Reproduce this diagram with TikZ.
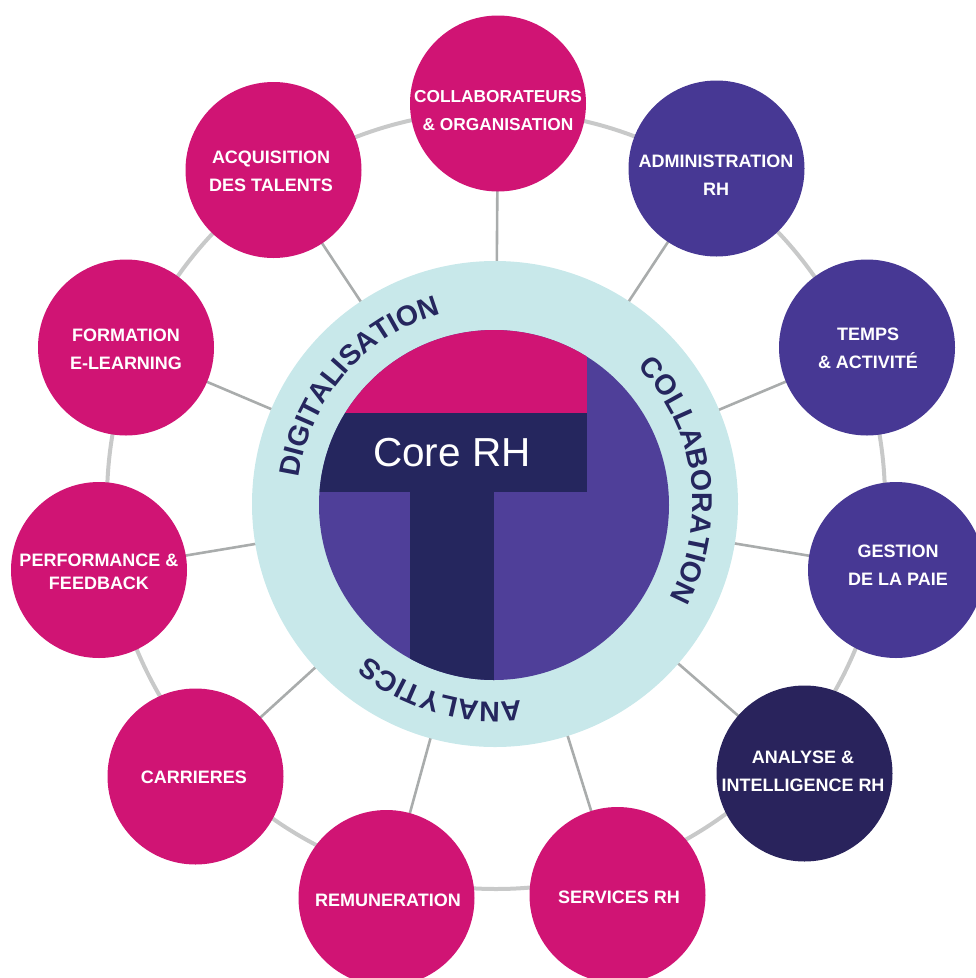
\documentclass[tikz,border=0pt]{standalone}
\usepackage{fontspec}
\setmainfont{Liberation Sans}
\usetikzlibrary{decorations.text}
\definecolor{pinkc}{HTML}{D01474}
\definecolor{purplec}{HTML}{473894}
\definecolor{tpurple}{HTML}{4F3F99}
\definecolor{navyc}{HTML}{29235C}
\definecolor{tnavy}{HTML}{25265E}
\definecolor{ringblue}{HTML}{C8E8EA}
\definecolor{ringgrey}{HTML}{C8C9C9}
\definecolor{spokegrey}{HTML}{A9ACAC}
\pgfdeclarelayer{bg}
\pgfsetlayers{bg,main}
\begin{document}
\begin{tikzpicture}[x=1pt,y=1pt,
  bubble/.style={circle, minimum size=176pt, inner sep=0pt},
  lbl/.style={text=white, align=center, inner sep=0pt, font=\bfseries\fontsize{18}{28}\selectfont},
  spoke/.style={draw=spokegrey, line width=2.6pt},
  ringtext/.style={decorate, decoration={text along path, text align=center, text color=tnavy, text={|\bfseries\fontsize{28.5}{30}\selectfont|#1}}}
  ]
\useasboundingbox (0,0) rectangle (976,-978);
\clip (0,0) rectangle (976,-978);

% central ring
\node[circle, minimum size=486pt, inner sep=0pt, fill=ringblue] (ring) at (495,-504) {};

% core T
\begin{scope}
  \clip (494,-505) circle[radius=175];
  \fill[tpurple] (300,-320) rectangle (690,-690);
  \fill[pinkc] (300,-320) rectangle (587,-413);
  \fill[tnavy] (300,-413) rectangle (587,-492);
  \fill[tnavy] (410,-492) rectangle (494,-690);
\end{scope}
\node[text=white, inner sep=0pt, font=\fontsize{40.5}{48}\selectfont] (corelbl) at (452,-453) {Core RH};

% ring texts
\path[ringtext=DIGITALISATION] (ring.center) ++(199.1:197.8) arc[start angle=199.1, end angle=79.1, radius=197.8];
\path[ringtext=COLLABORATION] (ring.center) ++(67.8:197.8) arc[start angle=67.8, end angle=-52.2, radius=197.8];
\path[ringtext=ANALYTICS] (ring.center) ++(-46.2:197.8) arc[start angle=-46.2, end angle=-166.2, radius=197.8];

% bubbles
\node[bubble, fill=pinkc]   (n1)  at (498,-103.5) {};
\node[bubble, fill=purplec] (n2)  at (716.5,-168.5) {};
\node[bubble, fill=purplec] (n3)  at (867,-347.5) {};
\node[bubble, fill=purplec] (n4)  at (896,-570) {};
\node[bubble, fill=navyc]   (n5)  at (804.5,-773.5) {};
\node[bubble, fill=pinkc]   (n6)  at (617.5,-895) {};
\node[bubble, fill=pinkc]   (n7)  at (386.5,-898) {};
\node[bubble, fill=pinkc]   (n8)  at (195.5,-776.5) {};
\node[bubble, fill=pinkc]   (n9)  at (99,-570) {};
\node[bubble, fill=pinkc]   (n10) at (126,-347.5) {};
\node[bubble, fill=pinkc]   (n11) at (273.5,-170) {};

% labels
\node[lbl, font=\bfseries\fontsize{17.3}{28}\selectfont] (t1) at (498,-111) {COLLABORATEURS\\\& ORGANISATION};
\node[lbl] (t2)  at (716,-175.5) {ADMINISTRATION\\RH};
\node[lbl] (t3)  at (868,-348.3) {TEMPS\\\& ACTIVIT\smash{É}};
\node[lbl] (t4)  at (898,-565) {GESTION\\DE LA PAIE};
\node[lbl] (t5)  at (803,-771.5) {ANALYSE \&\\INTELLIGENCE RH};
\node[lbl] (t6)  at (619,-897) {SERVICES RH};
\node[lbl] (t7)  at (388,-900.7) {REMUNERATION};
\node[lbl] (t8)  at (194,-777.3) {CARRIERES};
\node[lbl, font=\bfseries\fontsize{18}{22.5}\selectfont] (t9) at (99,-571.8) {PERFORMANCE \&\\FEEDBACK};
\node[lbl] (t10) at (126,-349) {FORMATION\\E-LEARNING};
\node[lbl] (t11) at (271,-170.8) {ACQUISITION\\DES TALENTS};

% connectors behind
\begin{pgfonlayer}{bg}
  \draw[ringgrey, line width=4pt] (496,-500) circle[radius=389];
  \foreach \i in {1,...,11} \draw[spoke] (ring.center) -- (n\i.center);
\end{pgfonlayer}
\end{tikzpicture}
\end{document}
